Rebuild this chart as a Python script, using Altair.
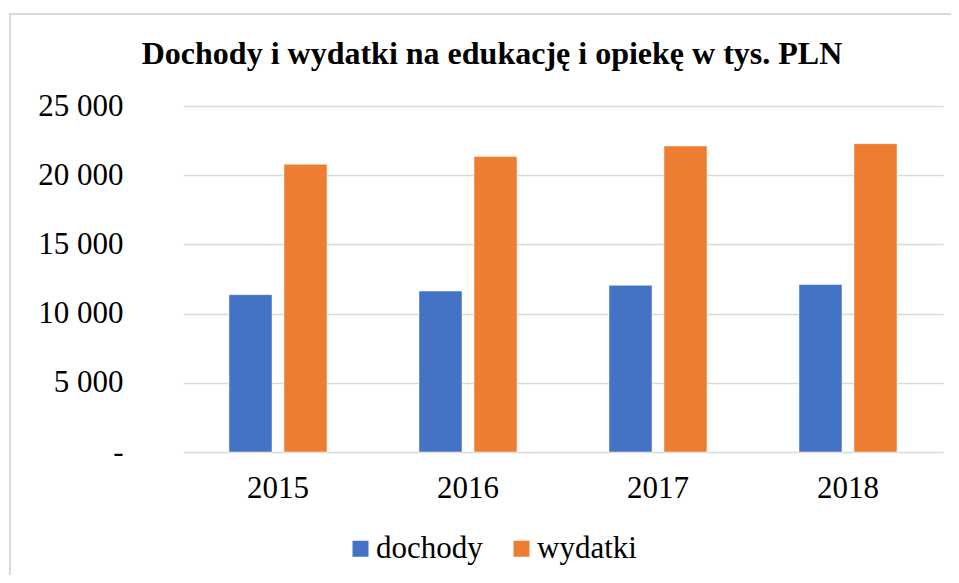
import altair as alt
import pandas as pd

years = ["2015", "2016", "2017", "2018"]
dochody = [11370, 11630, 12040, 12110]
wydatki = [20790, 21360, 22110, 22280]
series = ["dochody", "wydatki"]
colors = ["#4472C4", "#ED7D31"]
y_ticks = [0, 5000, 10000, 15000, 20000, 25000]

rows = []
for i, yr in enumerate(years):
    rows.append({"rok": yr, "seria": "dochody", "wartosc": dochody[i]})
    rows.append({"rok": yr, "seria": "wydatki", "wartosc": wydatki[i]})
df = pd.DataFrame(rows)

FONT = "Liberation Serif"

frame = alt.Chart(alt.Data(values=[{"f": 1}])).mark_rect(
    fill=None, stroke="#d9d9d9", strokeWidth=2, clip=False
).encode(
    x=alt.value(-173), x2=alt.value(820), y=alt.value(-92), y2=alt.value(520)
)

bars = alt.Chart(df).mark_bar(stroke="white", strokeWidth=0.8, strokeOpacity=0.6).encode(
    x=alt.X("rok:N", sort=years, title=None,
            scale=alt.Scale(paddingInner=0, paddingOuter=0),
            axis=alt.Axis(labelAngle=0, labelFont=FONT, labelFontSize=31,
                          labelColor="#000000", labelPadding=21, ticks=False,
                          domain=False, grid=False)),
    xOffset=alt.XOffset("seria:N", sort=series,
                        scale=alt.Scale(paddingInner=0.218, paddingOuter=0.836)),
    y=alt.Y("wartosc:Q", title=None,
            scale=alt.Scale(domain=[0, 25000], nice=False),
            axis=alt.Axis(values=y_ticks, labelFont=FONT, labelFontSize=31,
                          labelColor="#000000", labelPadding=60, ticks=False,
                          domain=False, gridColor="#d9d9d9", gridWidth=1.5,
                          labelExpr="datum.value == 0 ? '-' : replace(format(datum.value, ','), ',', ' ')")),
    color=alt.Color("seria:N", sort=series, title=None,
                    scale=alt.Scale(domain=series, range=colors),
                    legend=alt.Legend(orient="none", direction="horizontal",
                                      legendX=162, legendY=427, padding=0,
                                      symbolType="square", symbolSize=256,
                                      symbolStrokeWidth=0, symbolOffset=0,
                                      labelOffset=0, columnPadding=23,
                                      labelFont=FONT, labelFontSize=31,
                                      labelColor="#000000", labelLimit=300)),
)

chart = alt.layer(frame, bars).properties(
    width=760, height=346,
    title=alt.Title("Dochody i wydatki na edukację i opiekę w tys. PLN",
                    font=FONT, fontSize=32, fontWeight="bold", color="#000000",
                    anchor="middle", dx=-71, dy=66, offset=8),
    autosize=alt.AutoSizeParams(type="none"),
    padding={"left": 175, "top": 98, "right": 8, "bottom": 123},
).configure_view(stroke=None)

chart.save("out.html", embed_options={"renderer": "svg", "actions": False})
